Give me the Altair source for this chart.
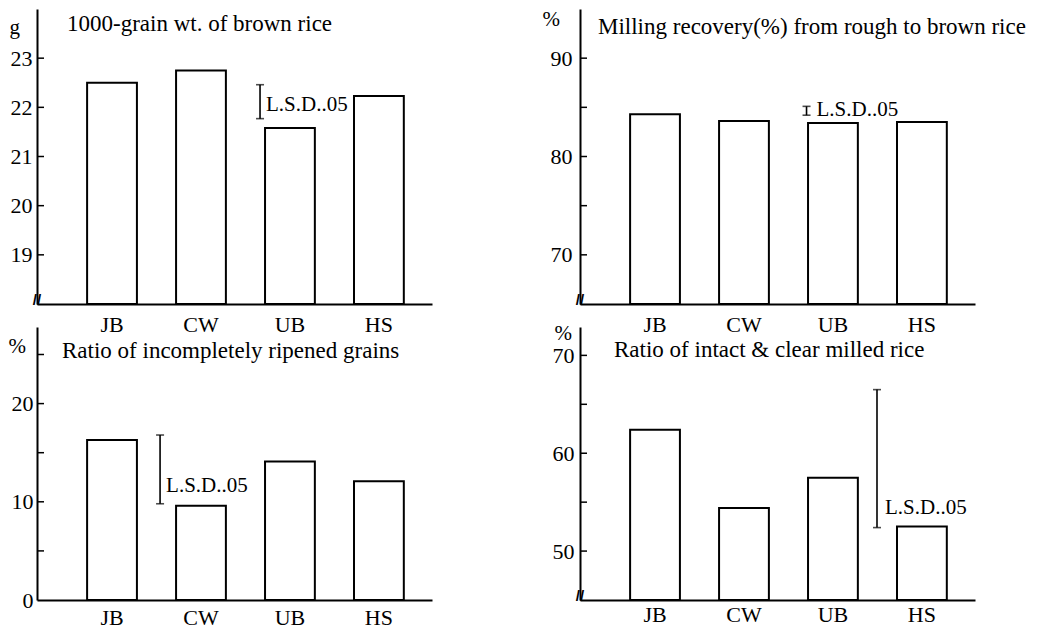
import altair as alt
import pandas as pd

FONT = "Liberation Serif"

categories = ["JB", "CW", "UB", "HS"]

# bar values per panel
grain_wt = [22.50, 22.75, 21.58, 22.23]
milling_recovery = [84.3, 83.6, 83.4, 83.5]
incomplete_ratio = [16.3, 9.6, 14.1, 12.1]
intact_ratio = [62.4, 54.4, 57.5, 52.5]

panel_titles = [
    "1000-grain wt. of brown rice",
    "Milling recovery(%) from rough to brown rice",
    "Ratio of incompletely ripened grains",
    "Ratio of intact & clear milled rice",
]
units = ["g", "%", "%", "%"]
y_domains = [[18, 24], [65, 95], [0, 27.8], [45, 72.9]]
labelled_ticks = [[19, 20, 21, 22, 23], [70, 80, 90], [0, 10, 20], [50, 60, 70]]
all_ticks = [[19, 20, 21, 22, 23], [70, 75, 80, 85, 90], [5, 10, 15, 20, 25], [50, 55, 60, 65, 70]]
broken_axis = [True, True, False, True]

# L.S.D. (.05) brackets
lsd_low = [21.77, 84.2, 9.8, 52.4]
lsd_high = [22.46, 85.1, 16.8, 66.5]
lsd_anchor = ["UB", "UB", "CW", "HS"]
lsd_text = "L.S.D..05"

# styling / layout per panel (not data)
lsd_xoff = [-5, -1.5, -16, -20]
lsd_dx = [6, 10, 6, 8]
lsd_dy = [-14, -5, -18, -20]
title_pos = [(30, 15), (18, 18), (25, 24), (34, 23)]
unit_pos = [(-28, 18), (-38, 10), (-29, 19), (-26, 6)]
ylab_pad = [5, 8, 4, 6]
xlab_pad = [10, 10, 7, 4]
heights = [295, 295, 273, 273]
W = 395
TITLE_SIZE = 23
LABEL_SIZE = 22


def panel(i, values):
    lo_d, hi_d = y_domains[i]
    xscale = alt.Scale(domain=categories, paddingInner=0.44, paddingOuter=0.44, align=0.64)
    yscale = alt.Scale(domain=[lo_d, hi_d], nice=False, zero=False)
    xaxis = alt.Axis(title=None, labelAngle=0, ticks=False, domainWidth=2, domainColor="black",
                     labelPadding=xlab_pad[i], labelFontSize=LABEL_SIZE, labelFont=FONT, grid=False)
    yaxis = alt.Axis(values=labelled_ticks[i], ticks=False, grid=False, domainWidth=2,
                     domainColor="black", title=units[i], titleAngle=0,
                     titleX=unit_pos[i][0], titleY=unit_pos[i][1], titleAlign="left",
                     titleBaseline="middle", labelPadding=ylab_pad[i], labelFontSize=LABEL_SIZE,
                     labelFont=FONT, titleFont=FONT, titleFontSize=21, titleFontWeight="normal")

    df = pd.DataFrame({"cat": categories, "val": values})
    bars = alt.Chart(df).mark_bar(fill="white", stroke="black", strokeWidth=2).encode(
        x=alt.X("cat:N", scale=xscale, sort=categories, axis=xaxis),
        y=alt.Y("val:Q", scale=yscale, axis=yaxis),
        y2=alt.datum(lo_d),
    )

    tdf = pd.DataFrame({"val": all_ticks[i]})
    ticks = alt.Chart(tdf).mark_rule(color="black", strokeWidth=1.5).encode(
        y=alt.Y("val:Q", scale=yscale, axis=yaxis),
        x=alt.value(0),
        x2=alt.value(7),
    )

    ldf = pd.DataFrame({"cat": [lsd_anchor[i]], "lo": [lsd_low[i]], "hi": [lsd_high[i]],
                        "label": [lsd_text]})
    lx = alt.X("cat:N", scale=xscale, sort=categories, axis=xaxis, bandPosition=0)
    xo = alt.XOffset(value=lsd_xoff[i])
    lsd_rule = alt.Chart(ldf).mark_rule(color="black", strokeWidth=1.6).encode(
        x=lx,
        xOffset=xo,
        y=alt.Y("lo:Q", scale=yscale, axis=yaxis),
        y2="hi:Q",
    )
    cdf = pd.DataFrame({"cat": [lsd_anchor[i]] * 2, "val": [lsd_low[i], lsd_high[i]]})
    caps = alt.Chart(cdf).mark_tick(orient="horizontal", size=8, thickness=1.6, color="black").encode(
        x=lx,
        xOffset=xo,
        y=alt.Y("val:Q", scale=yscale, axis=yaxis),
    )
    lsd_label = alt.Chart(ldf).mark_text(align="left", baseline="middle", fontSize=21, font=FONT,
                                         dx=lsd_dx[i], dy=lsd_dy[i], color="black").encode(
        x=lx,
        xOffset=xo,
        y=alt.Y("lo:Q", scale=yscale, axis=yaxis),
        text="label:N",
    )

    ttl = alt.Chart(pd.DataFrame({"t": [panel_titles[i]]})).mark_text(
        align="left", baseline="middle", fontSize=TITLE_SIZE, font=FONT, color="black"
    ).encode(x=alt.value(title_pos[i][0]), y=alt.value(title_pos[i][1]), text="t:N")

    layers = [bars, ticks, lsd_rule, caps, lsd_label, ttl]
    if broken_axis[i]:
        brk = alt.Chart(pd.DataFrame({"s": ["//"]})).mark_text(
            align="center", baseline="middle", fontSize=15, fontWeight="bold", dy=-4, color="black"
        ).encode(x=alt.value(0), y=alt.datum(lo_d), text="s:N")
        layers.append(brk)

    return alt.layer(*layers).properties(width=W, height=heights[i])


panels = [panel(0, grain_wt), panel(1, milling_recovery), panel(2, incomplete_ratio), panel(3, intact_ratio)]

chart = alt.concat(*panels, columns=2, spacing={"row": 23, "column": 148}, bounds="flush").properties(
    padding=0
).configure_view(stroke=None).configure_axis(labelColor="black", titleColor="black")

chart.save("out.html", embed_options={"renderer": "svg", "actions": False})
